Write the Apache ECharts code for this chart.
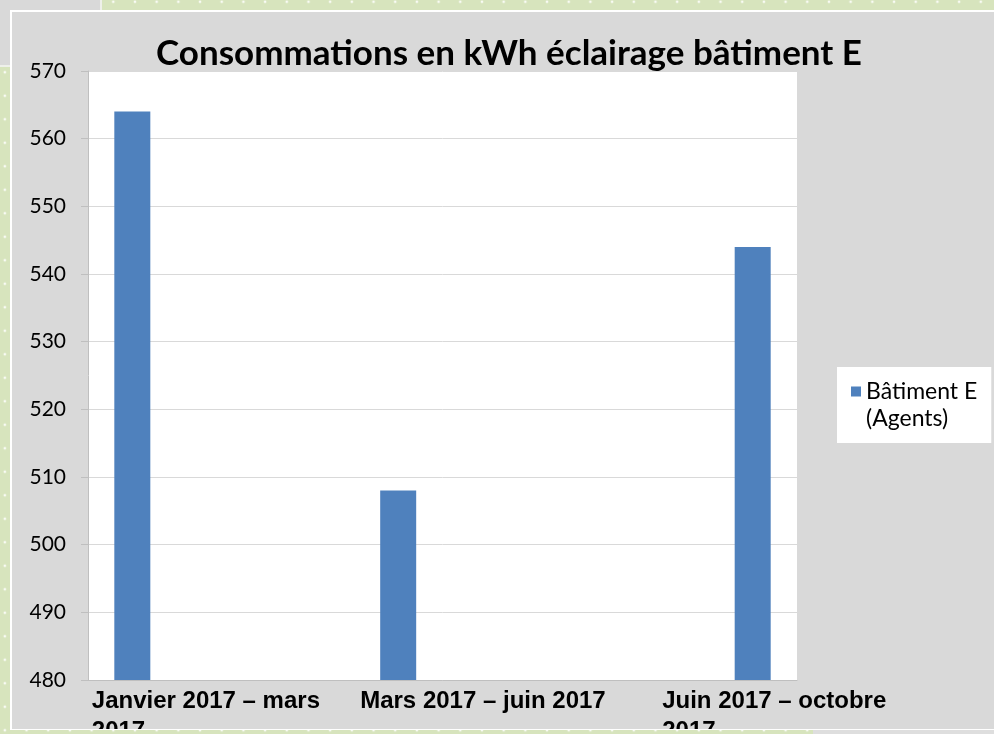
<!DOCTYPE html>
<html>
<head>
<meta charset="utf-8">
<script src="https://cdn.jsdelivr.net/npm/echarts@6/dist/echarts.min.js"></script>
<style>
  html, body { margin: 0; padding: 0; }
  body {
    width: 994px; height: 734px; position: relative; overflow: hidden;
    background-color: #d7e4bd;
    background-image: radial-gradient(circle, rgba(255,255,255,0.85) 1px, transparent 1.7px);
    background-size: 21.7px 23.5px;
    background-position: -6px -10px;
  }
  #corner { position: absolute; left: 0; top: 0; width: 100px; height: 65px; background: #d9d9d9; border-right: 2px solid #eef0ea; border-bottom: 2px solid #eef0ea; }
  #frame { position: absolute; left: 10px; top: 10px; width: 984px; height: 720px; background: #ffffff; }
  #chart { position: absolute; left: 12px; top: 12px; width: 982px; height: 717px; }
  #foot { position: absolute; left: 813px; top: 730px; width: 181px; height: 4px; background: #dedede; }
</style>
</head>
<body>
<div id="corner"></div>
<div id="frame"></div>
<div id="chart"></div>
<div id="foot"></div>
<script>
// Periods (blank slots are empty rows of the source sheet)
const categories = [
  'Janvier 2017 – mars 2017', '', '',
  'Mars 2017 – juin 2017', '', '', '',
  'Juin 2017 – octobre 2017'
];
const consumption = [564, null, null, 508, null, null, null, 544];
const seriesName = 'Bâtiment E (Agents)';
const yTicks = { min: 480, max: 570, interval: 10 };

// left padding used to push each wrapped label to where Excel drew it
const labelPad = [179, 0, 0, 184, 0, 0, 0, 79];

const chart = echarts.init(document.getElementById('chart'));

const option = {
  backgroundColor: '#d9d9d9',
  animation: false,
  title: {
    text: 'Consommations en kWh éclairage bâtiment E',
    left: 492,
    top: 19,
    textAlign: 'center',
    textStyle: {
      fontFamily: 'Lato',
      fontWeight: 'bold',
      fontSize: 35,
      color: '#000000'
    }
  },
  legend: {
    data: [seriesName],
    orient: 'vertical',
    left: 825,
    top: 355,
    padding: [11, 14, 11, 14],
    backgroundColor: '#ffffff',
    itemWidth: 10,
    itemHeight: 37,
    icon: 'path://M0,0H10V10H0Z M0,37H10',
    formatter: name => name.replace(' (', '\n('),
    textStyle: {
      fontFamily: 'Lato',
      fontSize: 23,
      lineHeight: 27,
      color: '#000000'
    }
  },
  grid: {
    left: 76,
    top: 59,
    right: 197,
    bottom: 49,
    show: true,
    backgroundColor: '#ffffff',
    borderWidth: 0,
    outerBoundsMode: 'none'
  },
  xAxis: {
    type: 'category',
    data: categories.map((name, i) => ({
      value: name,
      textStyle: { padding: [0, 0, 0, labelPad[i]] }
    })),
    axisLine: { lineStyle: { color: '#bfbfbf', width: 1 } },
    axisTick: { show: false },
    axisLabel: {
      interval: 0,
      margin: 6,
      width: 260,
      overflow: 'break',
      formatter: v => (v ? '{l|' + v + '}' : ''),
      fontFamily: 'Liberation Sans, Arial',
      fontWeight: 'bold',
      fontSize: 24,
      lineHeight: 30,
      color: '#000000',
      rich: {
        l: {
          align: 'left',
          fontFamily: 'Liberation Sans, Arial',
          fontWeight: 'bold',
          fontSize: 24,
          lineHeight: 30,
          color: '#000000'
        }
      }
    }
  },
  yAxis: {
    type: 'value',
    min: yTicks.min,
    max: yTicks.max,
    interval: yTicks.interval,
    axisLine: { show: true, lineStyle: { color: '#bfbfbf', width: 1 } },
    axisTick: { show: true, length: 7, lineStyle: { color: '#bfbfbf' } },
    splitLine: { lineStyle: { color: '#d9d9d9', width: 1 } },
    axisLabel: {
      margin: 22,
      fontFamily: 'Lato',
      fontSize: 21,
      color: '#000000'
    }
  },
  series: [
    {
      name: seriesName,
      type: 'bar',
      data: consumption,
      barWidth: 36,
      itemStyle: { color: '#4f81bd' }
    }
  ]
};

chart.setOption(option);
</script>
</body>
</html>
